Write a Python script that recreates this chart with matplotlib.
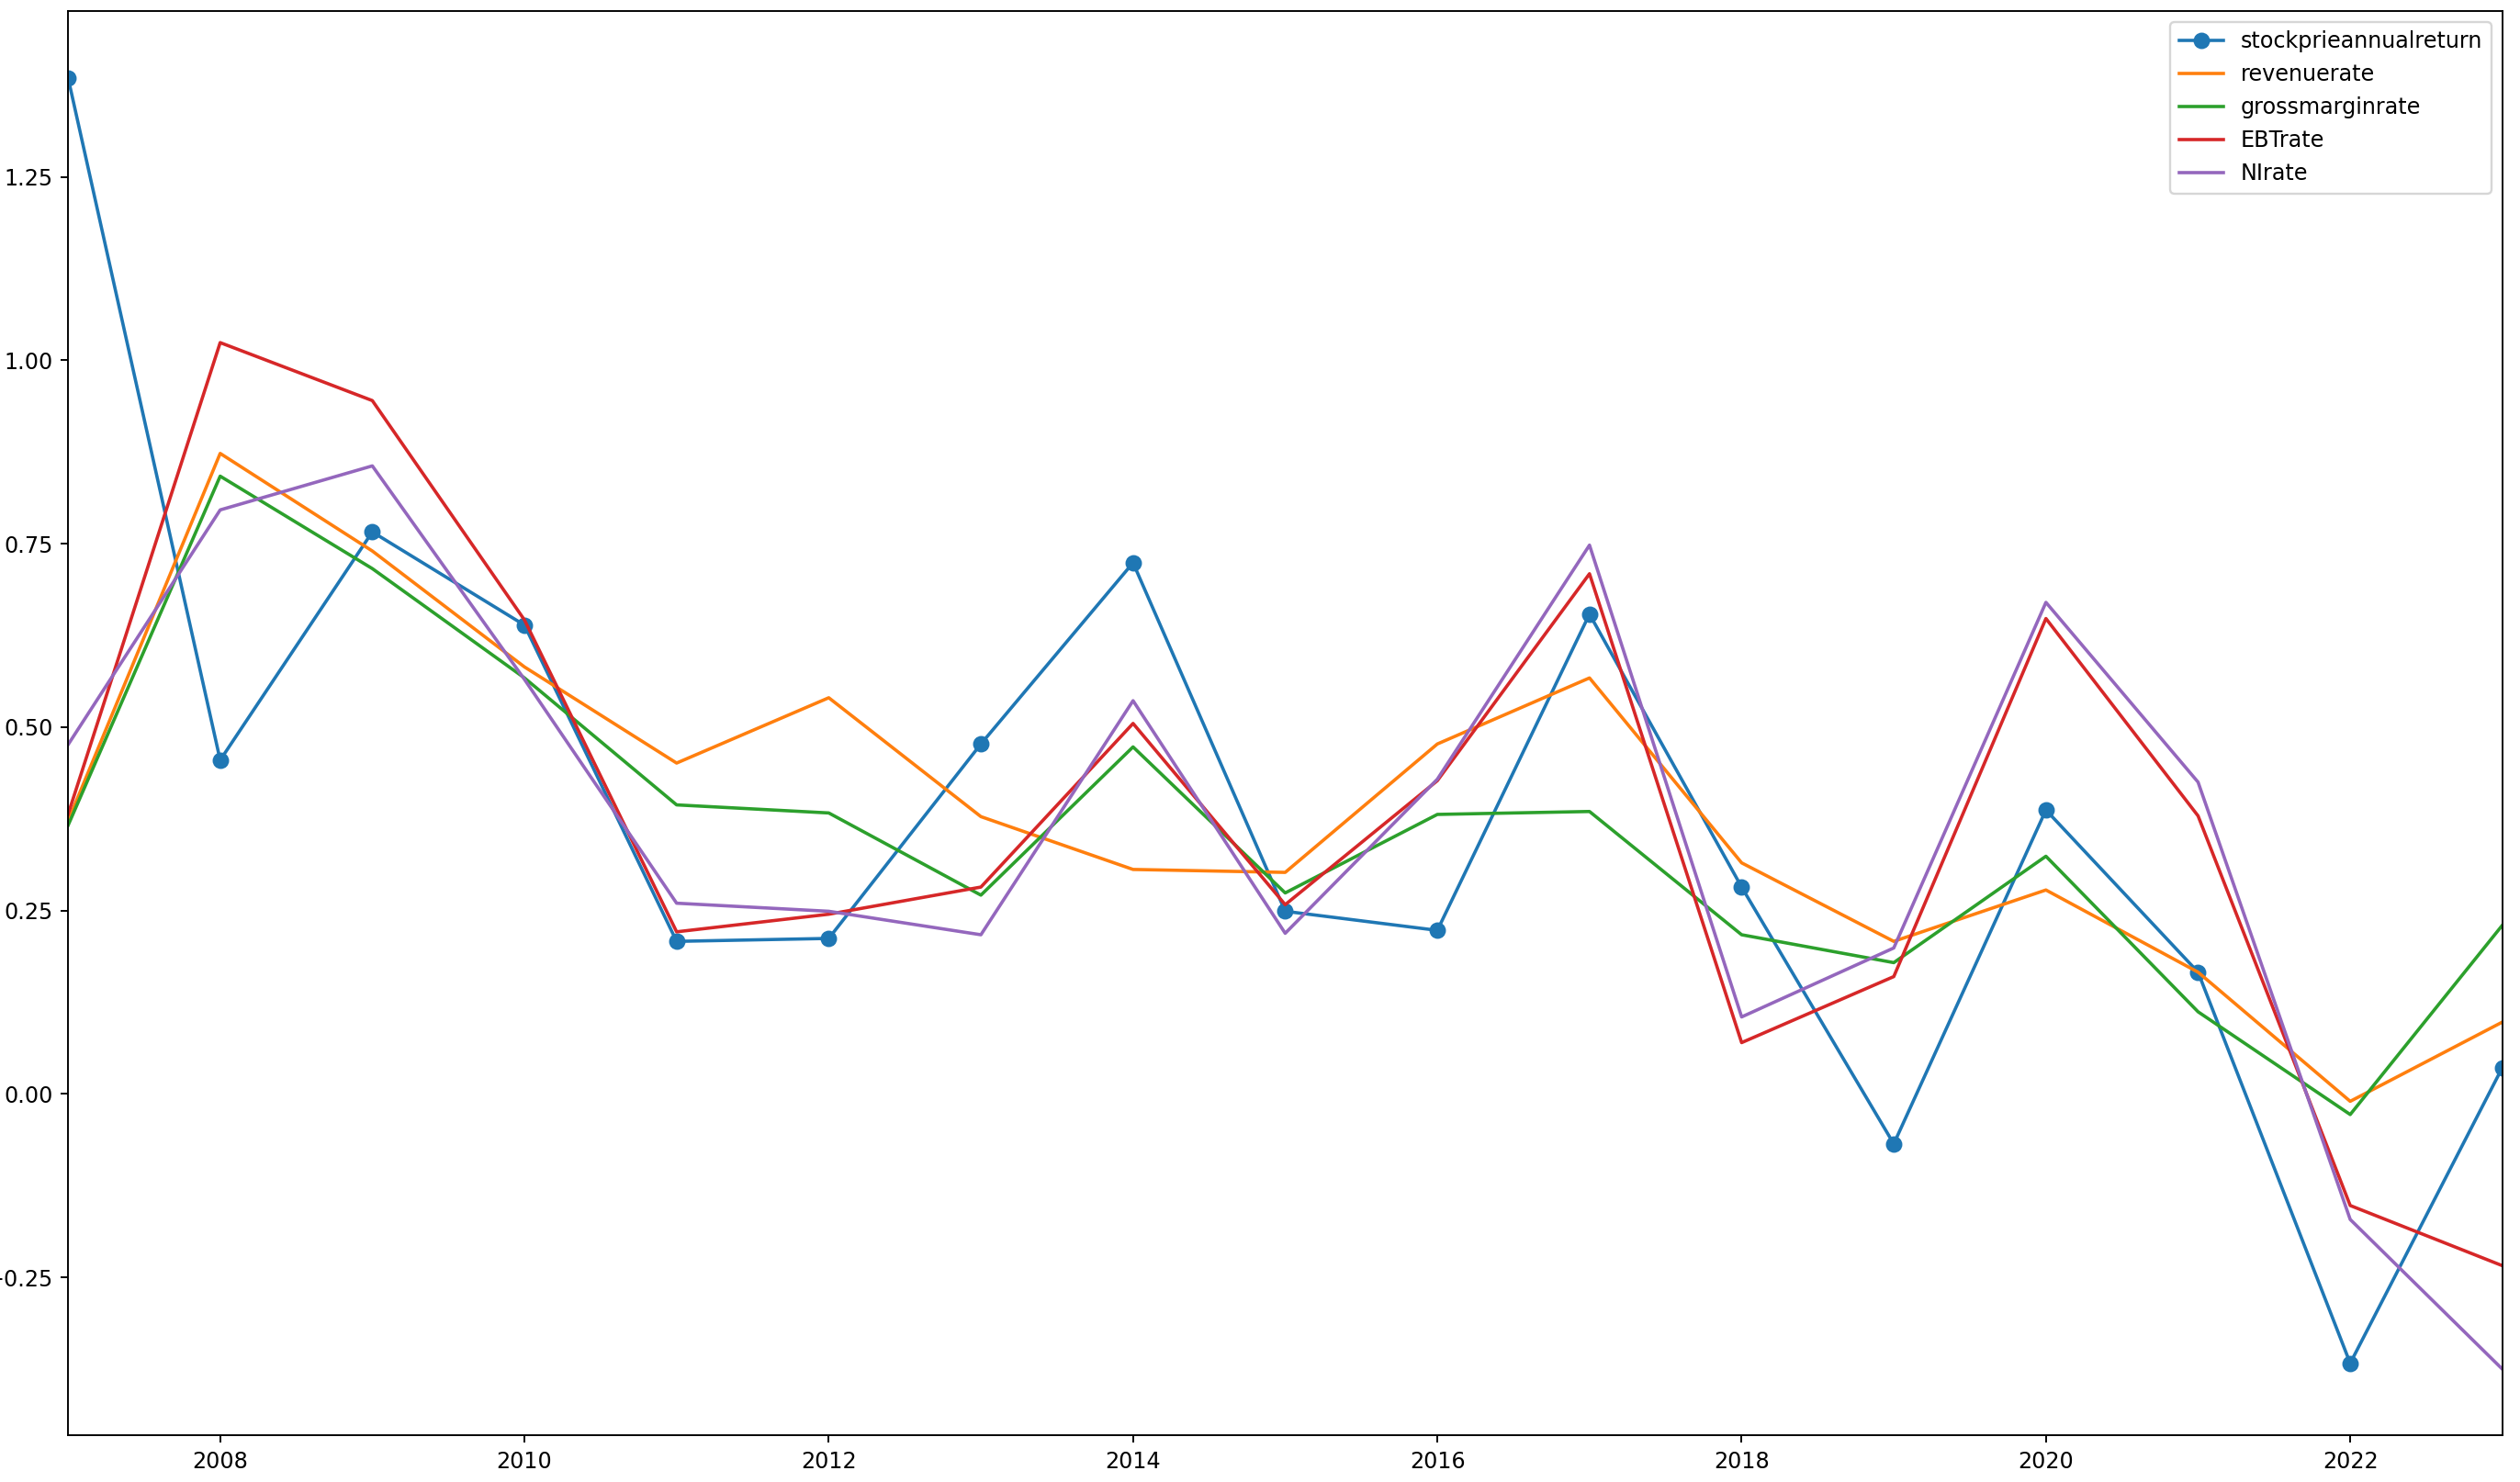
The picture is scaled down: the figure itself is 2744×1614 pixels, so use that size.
import numpy as np
import matplotlib
matplotlib.use("Agg")
import matplotlib.pyplot as plt

years = np.arange(2007, 2024)

stockprieannualreturn = [1.385, 0.455, 0.766, 0.639, 0.208, 0.212, 0.477, 0.724, 0.249,
                         0.223, 0.654, 0.282, -0.068, 0.387, 0.166, -0.367, 0.036]
revenuerate = [0.372, 0.873, 0.740, 0.582, 0.451, 0.540, 0.378, 0.306, 0.302,
               0.477, 0.567, 0.315, 0.208, 0.278, 0.166, -0.010, 0.098]
grossmarginrate = [0.366, 0.842, 0.716, 0.567, 0.394, 0.383, 0.271, 0.473, 0.274,
                   0.381, 0.385, 0.217, 0.179, 0.324, 0.112, -0.028, 0.230]
EBTrate = [0.381, 1.024, 0.945, 0.646, 0.221, 0.245, 0.282, 0.505, 0.258,
           0.427, 0.709, 0.070, 0.160, 0.648, 0.379, -0.152, -0.234]
NIrate = [0.476, 0.796, 0.856, 0.565, 0.260, 0.249, 0.217, 0.536, 0.219,
          0.429, 0.748, 0.105, 0.199, 0.670, 0.425, -0.171, -0.375]


def main():
    # dpi mas bajo para que texto y lineas queden del tamaño del original
    dpi = 172
    fig = plt.figure(figsize=(2744 / dpi, 1614 / dpi), dpi=dpi)
    ax = fig.add_axes([0.027, 0.0316, 0.966, 0.961])

    ax.plot(years, stockprieannualreturn, marker='o', markersize=6.5, label='stockprieannualreturn')
    ax.plot(years, revenuerate, label='revenuerate')
    ax.plot(years, grossmarginrate, label='grossmarginrate')
    ax.plot(years, EBTrate, label='EBTrate')
    ax.plot(years, NIrate, label='NIrate')

    ax.set_xlim(2007, 2023)
    ax.set_ylim(-0.465, 1.476)
    ax.set_xticks(np.arange(2008, 2023, 2))
    ax.set_yticks([-0.25, 0.0, 0.25, 0.5, 0.75, 1.0, 1.25])
    ax.legend(loc='upper right')

    fig.savefig('out.png', dpi=dpi)


if __name__ == "__main__":
    main()
